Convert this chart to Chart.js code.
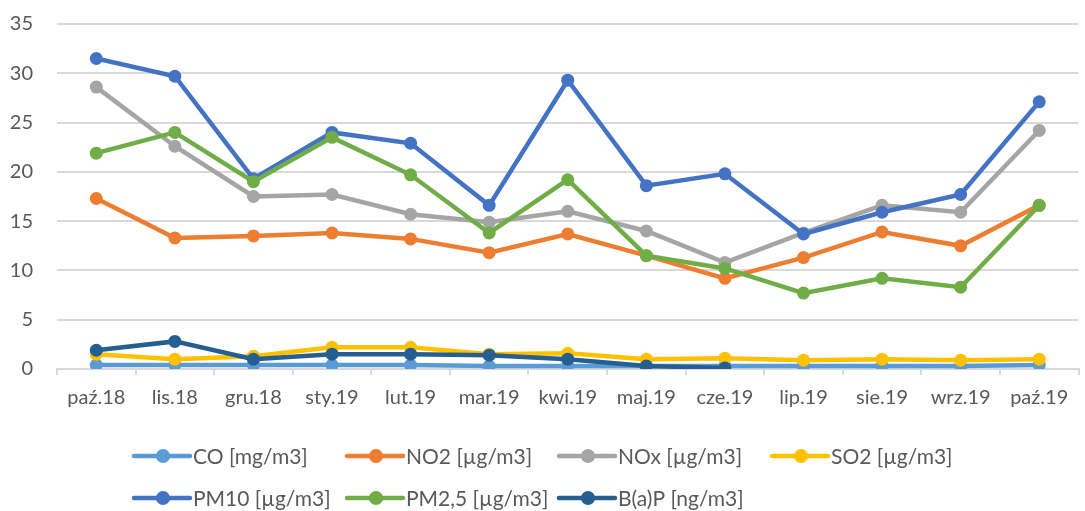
<!DOCTYPE html>
<html>
<head>
<meta charset="utf-8">
<script src="https://cdn.jsdelivr.net/npm/chart.js@4"></script>
<style>
  html, body { margin: 0; padding: 0; background: #fff; }
  #wrap { width: 1085px; height: 511px; }
</style>
</head>
<body>
<div id="wrap"><canvas id="airChart" width="1085" height="511"></canvas></div>
<script>
const categories = ["paź.18", "lis.18", "gru.18", "sty.19", "lut.19", "mar.19", "kwi.19", "maj.19", "cze.19", "lip.19", "sie.19", "wrz.19", "paź.19"];
const yTicks = [0, 5, 10, 15, 20, 25, 30, 35];

const co = [0.4, 0.4, 0.4, 0.4, 0.4, 0.3, 0.3, 0.3, 0.3, 0.3, 0.3, 0.3, 0.4];
const no2 = [17.3, 13.3, 13.5, 13.8, 13.2, 11.8, 13.7, 11.5, 9.2, 11.3, 13.9, 12.5, 16.6];
const nox = [28.6, 22.6, 17.5, 17.7, 15.7, 14.9, 16.0, 14.0, 10.8, 13.8, 16.6, 15.9, 24.2];
const so2 = [1.5, 1.0, 1.3, 2.2, 2.2, 1.5, 1.6, 1.0, 1.1, 0.9, 1.0, 0.9, 1.0];
const pm10 = [31.5, 29.7, 19.3, 24.0, 22.9, 16.6, 29.3, 18.6, 19.8, 13.7, 15.9, 17.7, 27.1];
const pm25 = [21.9, 24.0, 19.0, 23.5, 19.7, 13.8, 19.2, 11.5, 10.2, 7.7, 9.2, 8.3, 16.6];
const bap = [1.9, 2.8, 1.0, 1.5, 1.5, 1.4, 1.0, 0.3, 0.1, null, null, null, null];

const seriesNames = ["CO [mg/m3]", "NO2 [µg/m3]", "NOx [µg/m3]", "SO2 [µg/m3]", "PM10 [µg/m3]", "PM2,5 [µg/m3]", "B(a)P [ng/m3]"];
const seriesColors = ["#5b9bd5", "#ed7d31", "#a5a5a5", "#ffc000", "#4472c4", "#70ad47", "#255e91"];
const seriesValues = [co, no2, nox, so2, pm10, pm25, bap];

const FONT = "Lato, 'Open Sans', sans-serif";

// legend in fixed columns, like the office chart
const gridLegend = {
  id: "gridLegend",
  afterDraw(chart) {
    const ctx = chart.ctx;
    const colX = [134, 347, 559, 772];
    const rowY = [456, 498];
    ctx.save();
    ctx.font = "21px " + FONT;
    ctx.textBaseline = "middle";
    ctx.textAlign = "left";
    chart.data.datasets.forEach((ds, i) => {
      const x = colX[i % 4];
      const y = rowY[Math.floor(i / 4)];
      ctx.strokeStyle = ds.borderColor;
      ctx.lineWidth = 4.5;
      ctx.lineCap = "round";
      ctx.beginPath();
      ctx.moveTo(x, y);
      ctx.lineTo(x + 56, y);
      ctx.stroke();
      ctx.fillStyle = ds.borderColor;
      ctx.beginPath();
      ctx.arc(x + 29, y, 7, 0, Math.PI * 2);
      ctx.fill();
      ctx.fillStyle = "#595959";
      ctx.fillText(ds.label, x + 59, y + 1);
    });
    ctx.restore();
  },
};

new Chart(document.getElementById("airChart"), {
  type: "line",
  plugins: [gridLegend],
  data: {
    labels: categories,
    datasets: seriesNames.map((name, i) => ({
      label: name,
      data: seriesValues[i],
      borderColor: seriesColors[i],
      backgroundColor: seriesColors[i],
      pointBackgroundColor: seriesColors[i],
      borderWidth: 4.5,
      pointRadius: 6.5,
      pointBorderWidth: 0,
      tension: 0,
      spanGaps: false,
      order: seriesNames.length - i,
    })),
  },
  options: {
    responsive: false,
    animation: false,
    layout: { padding: { top: 24, right: 1, left: 0, bottom: 0 } },
    plugins: {
      legend: { display: false },
      tooltip: { enabled: false },
    },
    scales: {
      x: {
        offset: true,
        grid: {
          offset: true,
          drawOnChartArea: false,
          drawTicks: true,
          tickLength: 6,
          color: "#d9d9d9",
          lineWidth: 2,
        },
        border: { color: "#d9d9d9", width: 2 },
        ticks: {
          color: "#595959",
          font: { family: FONT, size: 20 },
          padding: 11,
          maxRotation: 0,
          autoSkip: false,
        },
        afterFit(scale) {
          scale.height = 142;
        },
      },
      y: {
        min: 0,
        max: 35,
        afterBuildTicks(scale) {
          scale.ticks = yTicks.map((v) => ({ value: v }));
        },
        // invisible tick marks keep the labels off the plot without extra top padding
        grid: {
          color: "#d9d9d9",
          lineWidth: 2,
          drawTicks: true,
          tickLength: 24,
          tickColor: "rgba(0,0,0,0)",
        },
        border: { display: false },
        ticks: {
          color: "#595959",
          font: { family: FONT, size: 20 },
          padding: 0,
        },
        afterFit(scale) {
          scale.width = 57;
        },
      },
    },
  },
});
</script>
</body>
</html>
